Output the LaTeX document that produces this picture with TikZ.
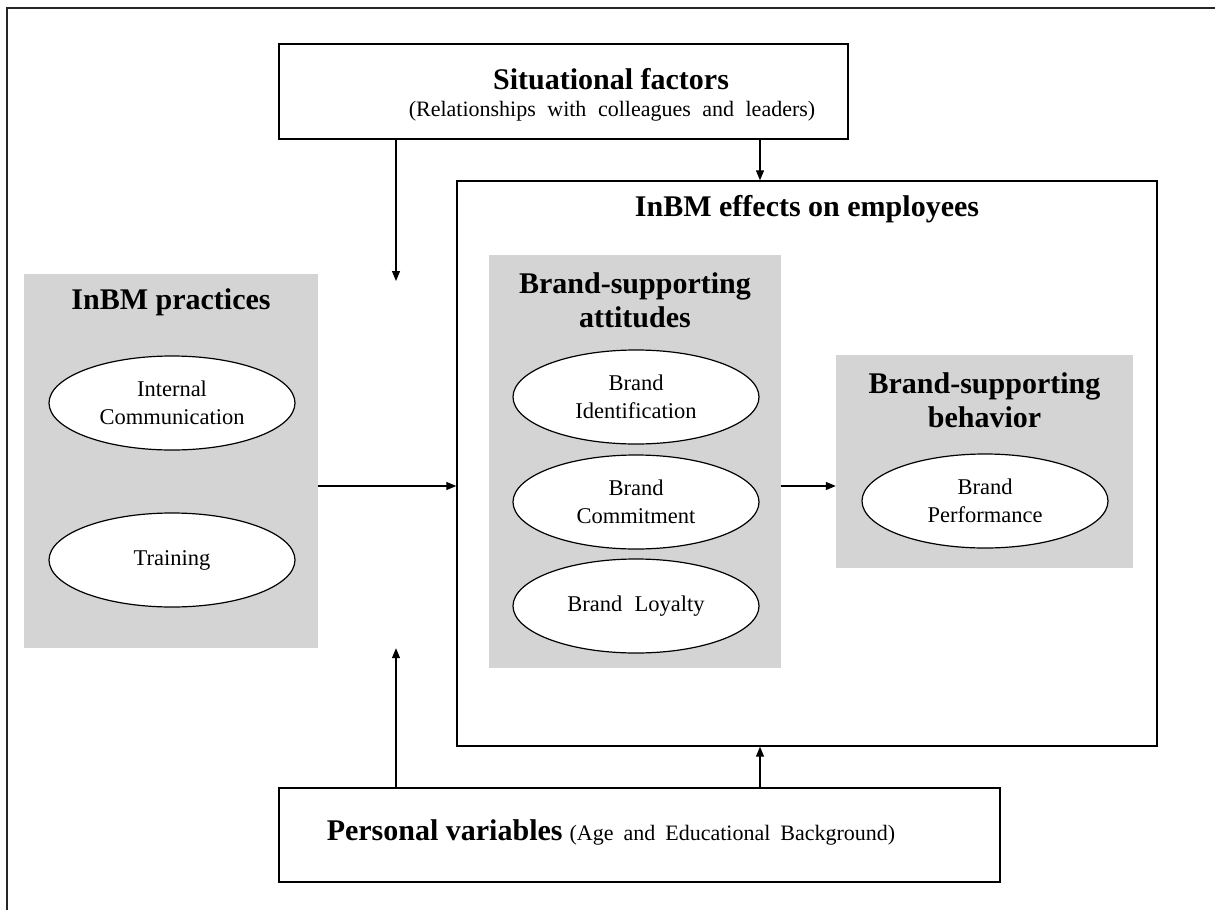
\documentclass[tikz,border=0pt]{standalone}
\usepackage{fontspec}
\setmainfont{Liberation Serif}
\usetikzlibrary{arrows.meta,shapes.geometric}
\definecolor{panelgray}{RGB}{212,212,212}
% wider interword spacing for the parenthetical notes
\newcommand{\gapspace}[1]{\spaceskip=#1\relax}
\begin{document}
\begin{tikzpicture}[x=1pt,y=-1pt,
  frameline/.style={line width=2pt,draw=black!85},
  box/.style={draw=black,line width=1.8pt,fill=white,inner sep=0pt},
  thinbox/.style={draw=black,line width=1.4pt,inner sep=0pt},
  panel/.style={fill=panelgray,draw=none,inner sep=0pt},
  oval/.style={ellipse,draw=black,line width=1.2pt,fill=white,
    minimum width=246pt,minimum height=94pt,inner sep=0pt,align=center,
    font=\fontsize{22.5}{28}\selectfont},
  heading/.style={font=\fontsize{30}{34}\selectfont\bfseries,align=center,inner sep=0pt},
  subtext/.style={font=\fontsize{22}{26}\selectfont,inner sep=0pt},
  arr/.style={line width=1.2pt,-{Triangle[length=10pt,width=8pt]}}
]
\useasboundingbox (0,0) rectangle (1215,910);
\draw[frameline] (7,910) -- (7,8) -- (1215,8);

% vertical lines of the moderating arrows
\coordinate (lx) at (396,0);
\coordinate (rx) at (760,0);
\coordinate (ltip) at (396,281);
\coordinate (midy) at (0,486);

% situational factors
\node[box,minimum width=569pt,minimum height=95pt] (sit) at (563.5,91.5) {};
\node[heading] (sittitle) at (611,79) {Situational factors};
\node[subtext] (sitsub) at (612,111) {\gapspace{11.5pt}(Relationships with colleagues and leaders)};

% InBM effects on employees
\node[thinbox,minimum width=700pt,minimum height=565pt] (eff) at (807,463.5) {};
\node[heading] (efftitle) at (807,209) {InBM effects on employees};

% InBM practices
\node[panel,minimum width=294pt,minimum height=374pt] (prac) at (171,461) {};
\node[heading] (practitle) at (171,302) {InBM practices};
\node[oval] (ic) at (172,403) {Internal\\Communication};
\node[oval] (tr) at (172,560) {Training};

% brand-supporting attitudes
\node[panel,minimum width=292pt,minimum height=413pt] (att) at (635,461.5) {};
\node[heading] (atttitle) at (635,300) {Brand-supporting\\attitudes};
\node[oval] (bi) at (636,397) {Brand\\Identification};
\node[oval] (bc) at (636,502) {Brand\\Commitment};
\node[oval] (bl) at (636,606) {Brand\hspace{0.55em}Loyalty};

% brand-supporting behavior
\node[panel,minimum width=297pt,minimum height=213pt] (beh) at (984.5,461.5) {};
\node[heading] (behtitle) at (984.5,400) {Brand-supporting\\behavior};
\node[oval] (bp) at (985,501) {Brand\\Performance};

% personal variables
\node[box,minimum width=721pt,minimum height=94pt] (pers) at (639.5,835) {};
\node[inner sep=0pt] (perstext) at (611,832)
  {{\fontsize{30}{34}\selectfont\bfseries Personal variables}\hspace{7pt}{\fontsize{22}{26}\selectfont\gapspace{10pt}(Age and Educational Background)}};

% connectors
\draw[arr] (sit.south -| lx) -- (ltip);
\draw[arr] (sit.south -| rx) -- (eff.north -| rx);
\draw[arr] (pers.north -| lx) -- (prac.south -| lx);
\draw[arr] (pers.north -| rx) -- (eff.south -| rx);
\draw[arr] (prac.east |- midy) -- (eff.west |- midy);
\draw[arr] (att.east |- midy) -- (beh.west |- midy);
\end{tikzpicture}
\end{document}
